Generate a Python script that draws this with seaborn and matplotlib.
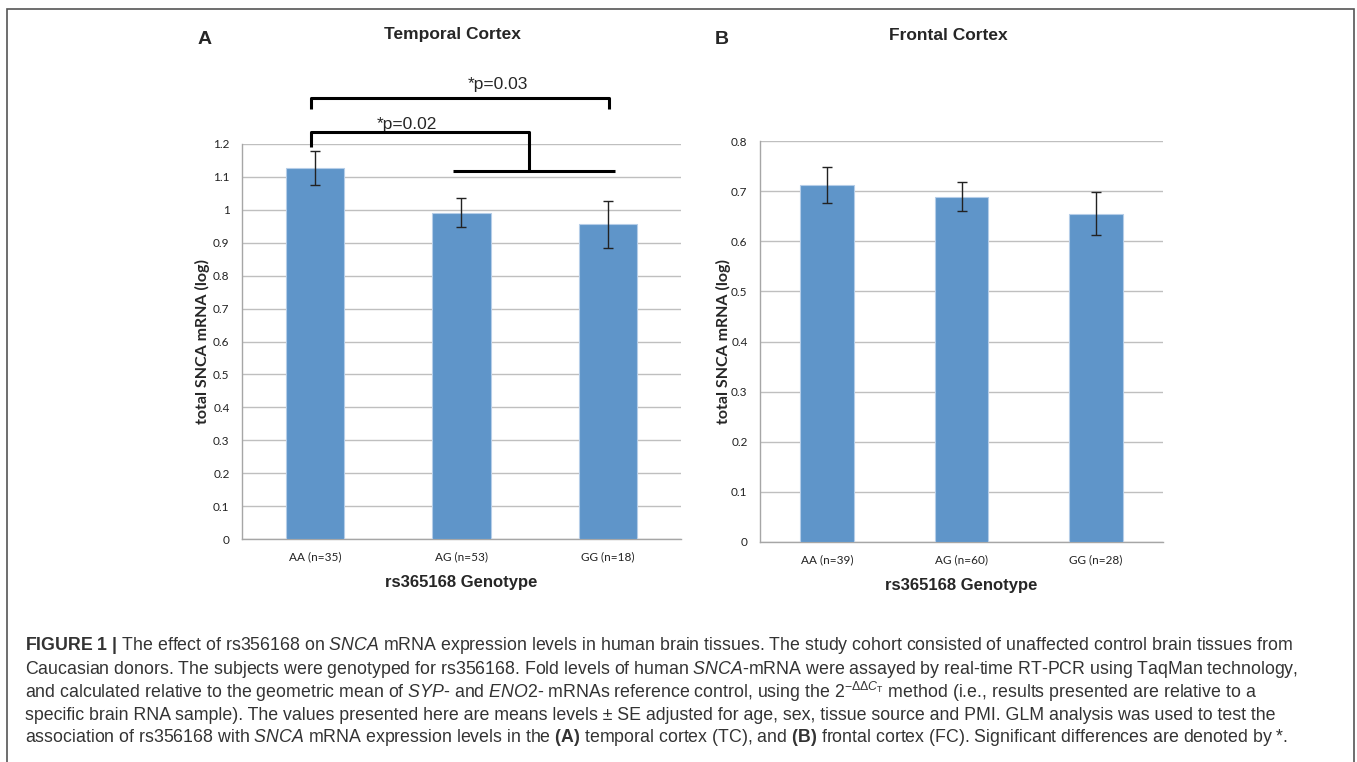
import matplotlib
matplotlib.use("Agg")
import matplotlib.pyplot as plt
import seaborn as sns
from matplotlib.patches import Rectangle

# --- data ---
tc_labels = ["AA (n=35)", "AG (n=53)", "GG (n=18)"]
tc_means = [1.128, 0.991, 0.956]
tc_se = [0.052, 0.044, 0.072]

fc_labels = ["AA (n=39)", "AG (n=60)", "GG (n=28)"]
fc_means = [0.713, 0.689, 0.655]
fc_se = [0.036, 0.029, 0.043]

tc_ticks = [0, 0.1, 0.2, 0.3, 0.4, 0.5, 0.6, 0.7, 0.8, 0.9, 1, 1.1, 1.2]
fc_ticks = [0, 0.1, 0.2, 0.3, 0.4, 0.5, 0.6, 0.7, 0.8]

caption_lines = [
    r"$\mathbf{FIGURE\ 1\ |}$ The effect of rs356168 on $\mathit{SNCA}$ mRNA expression levels in human brain tissues. The study cohort consisted of unaffected control brain tissues from",
    r"Caucasian donors. The subjects were genotyped for rs356168. Fold levels of human $\mathit{SNCA}$-mRNA were assayed by real-time RT-PCR using TaqMan technology,",
    r"and calculated relative to the geometric mean of $\mathit{SYP}$- and $\mathit{ENO2}$- mRNAs reference control, using the $2^{-\Delta\Delta C_\mathrm{T}}$ method (i.e., results presented are relative to a",
    r"specific brain RNA sample). The values presented here are means levels ± SE adjusted for age, sex, tissue source and PMI. GLM analysis was used to test the",
    r"association of rs356168 with $\mathit{SNCA}$ mRNA expression levels in the $\mathbf{(A)}$ temporal cortex (TC), and $\mathbf{(B)}$ frontal cortex (FC). Significant differences are denoted by *.",
]

BAR = "#5f95c9"
GRID = "#bfbfbf"
CAP_FONT = ["Liberation Sans", "DejaVu Sans"]

sns.set_style("white")
plt.rcParams["mathtext.fontset"] = "custom"
plt.rcParams["mathtext.rm"] = "Liberation Sans"
plt.rcParams["mathtext.it"] = "Liberation Sans:italic"
plt.rcParams["mathtext.bf"] = "Liberation Sans:bold"

fig = plt.figure(figsize=(13.57, 7.62), dpi=100)


def panel(ax, labels, means, se, ticks, ymax, lpad):
    sns.barplot(x=labels, y=means, color=BAR, saturation=1, width=0.4,
                edgecolor="#b5cde8", linewidth=0.8, ax=ax, zorder=3)
    ax.errorbar(range(len(means)), means, yerr=se, fmt="none", ecolor="#222222",
                elinewidth=1.0, capsize=3.5, capthick=1.0, zorder=4)
    ax.set_ylim(0, ymax)
    ax.set_xlim(-0.5, len(means) - 0.5)
    ax.set_yticks(ticks)
    ax.set_yticklabels([f"{t:g}" for t in ticks], family="Lato", fontsize=8.5, color="#222222")
    ax.set_xticks(range(len(labels)))
    ax.set_xticklabels(labels, family="Lato", fontsize=8.5, color="#222222")
    ax.yaxis.grid(True, color=GRID, lw=1.0, zorder=0)
    ax.set_axisbelow(True)
    for s in ["top", "right"]:
        ax.spines[s].set_visible(False)
    for s in ["left", "bottom"]:
        ax.spines[s].set_color("#a6a6a6")
        ax.spines[s].set_linewidth(1.0)
    ax.tick_params(axis="y", length=4, color="#a6a6a6", pad=5)
    ax.tick_params(axis="x", length=0, pad=9)
    ax.set_ylabel("total SNCA mRNA (log)", family="Lato", fontweight="bold",
                  fontsize=11.5, labelpad=lpad)
    ax.set_xlabel("rs365168 Genotype", family="Liberation Sans", fontweight="bold",
                  fontsize=12, labelpad=9)


ax1 = fig.add_axes([242 / 1357, 1 - 539 / 762, 439 / 1357, 395 / 762])
panel(ax1, tc_labels, tc_means, tc_se, tc_ticks, 1.2, 2)

ax2 = fig.add_axes([760 / 1357, 1 - 542 / 762, 403 / 1357, 401 / 762])
panel(ax2, fc_labels, fc_means, fc_se, fc_ticks, 0.8, 0)

# significance brackets (temporal cortex)
kw = dict(color="black", lw=2.2, clip_on=False, solid_capstyle="butt", zorder=5)
ax1.plot([-0.03, -0.03, 2.01, 2.01], [1.306, 1.3395, 1.3395, 1.306], **kw)
ax1.text(1.25, 1.38, "*p=0.03", ha="center", va="center", fontsize=12.5,
         family="Liberation Sans")
ax1.plot([-0.03, -0.03, 1.46, 1.46], [1.19, 1.236, 1.236, 1.118], **kw)
ax1.plot([0.945, 2.05], [1.118, 1.118], **kw)
ax1.text(0.63, 1.258, "*p=0.02", ha="center", va="center", fontsize=12.5,
         family="Liberation Sans")

# panel titles
fig.text(205 / 1357, 1 - 40 / 762, "A", fontsize=14, fontweight="bold",
         family=CAP_FONT, ha="center", va="center")
fig.text(452 / 1357, 1 - 35 / 762, "Temporal Cortex", fontsize=12.5, fontweight="bold",
         family=CAP_FONT, ha="center", va="center")
fig.text(722 / 1357, 1 - 40 / 762, "B", fontsize=14, fontweight="bold",
         family=CAP_FONT, ha="center", va="center")
fig.text(948 / 1357, 1 - 35 / 762, "Frontal Cortex", fontsize=12.5, fontweight="bold",
         family=CAP_FONT, ha="center", va="center")

# caption
for i, line in enumerate(caption_lines):
    fig.text(25 / 1357, 1 - (646 + 23 * i) / 762, line, fontsize=12.75, color="#333333",
             family=CAP_FONT, ha="left", va="center")

# outer frame
fig.patches.append(Rectangle((7 / 1357, -0.05), 1347 / 1357, 1.05 - 9 / 762,
                             transform=fig.transFigure, fill=False,
                             edgecolor="#555555", lw=1.2))

fig.savefig("out.png", dpi=100)
